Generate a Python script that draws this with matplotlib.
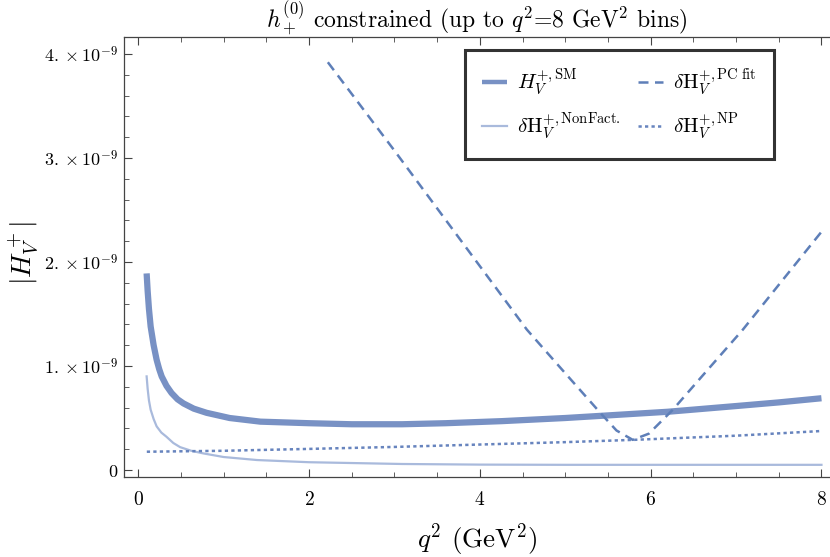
import matplotlib
matplotlib.use("Agg")
import matplotlib.pyplot as plt
from matplotlib.ticker import MultipleLocator, FixedLocator

plt.rcParams['mathtext.fontset'] = 'cm'
plt.rcParams['font.family'] = ['cmr10', 'DejaVu Serif']
plt.rcParams['axes.unicode_minus'] = False

# ---- data (values in units of 1e-9) ----
q2_sm = [0.098, 0.11, 0.125, 0.145, 0.18, 0.215, 0.245, 0.274, 0.33, 0.39, 0.46, 0.53, 0.65,
         0.80, 1.07, 1.43, 2.0, 2.5, 3.09, 3.6, 4.26, 5.0, 5.6, 6.2, 7.0, 7.5, 8.0]
h_sm = [1.89, 1.72, 1.55, 1.38, 1.20, 1.06, 0.97, 0.90, 0.81, 0.74, 0.68, 0.64, 0.59,
        0.55, 0.50, 0.465, 0.45, 0.44, 0.44, 0.45, 0.47, 0.50, 0.53, 0.56, 0.615, 0.65, 0.69]

q2_nf = [0.098, 0.11, 0.125, 0.145, 0.18, 0.215, 0.27, 0.33, 0.41, 0.49, 0.62, 0.76, 1.0,
         1.39, 2.0, 3.09, 4.0, 5.0, 6.0, 7.0, 8.0]
h_nf = [0.90, 0.78, 0.67, 0.58, 0.49, 0.42, 0.36, 0.32, 0.26, 0.22, 0.185, 0.16, 0.125,
        0.096, 0.075, 0.058, 0.052, 0.05, 0.05, 0.05, 0.05]

q2_pc = [2.22, 3.0, 4.0, 4.55, 5.0, 5.41, 5.6, 5.79, 5.98, 6.26, 6.6, 7.08, 7.5, 8.0]
h_pc = [3.92, 3.07, 1.96, 1.35, 0.93, 0.55, 0.38, 0.29, 0.35, 0.58, 0.90, 1.35, 1.78, 2.29]

q2_np = [0.1, 1.0, 2.0, 3.0, 4.0, 5.0, 5.8, 7.0, 8.0]
h_np = [0.176, 0.185, 0.203, 0.222, 0.245, 0.268, 0.29, 0.33, 0.375]

labels = [r'$H_V^{+,\mathrm{SM}}$', r'$\delta\mathrm{H}_V^{+,\mathrm{NonFact.}}$',
          r'$\delta\mathrm{H}_V^{+,\mathrm{PC\ fit}}$', r'$\delta\mathrm{H}_V^{+,\mathrm{NP}}$']
xticks = [0, 2, 4, 6, 8]
yticks = [0, 1, 2, 3, 4]
yticklabels = [r'$0$', r'$1.\times10^{-9}$', r'$2.\times10^{-9}$', r'$3.\times10^{-9}$', r'$4.\times10^{-9}$']

scale = 1e-9

fig = plt.figure(figsize=(8.3, 5.57), dpi=100)
ax = fig.add_axes([0.1494, 0.1442, 0.8506, 0.7889])

l1, = ax.plot(q2_sm, [v * scale for v in h_sm], color='#7891C4', lw=4.5, solid_capstyle='butt')
l2, = ax.plot(q2_nf, [v * scale for v in h_nf], color='#A9BADC', lw=1.6)
l3, = ax.plot(q2_pc, [v * scale for v in h_pc], color='#5E7FB8', lw=1.8, dashes=(4, 2.6))
l4, = ax.plot(q2_np, [v * scale for v in h_np], color='#6784BE', lw=1.8, dashes=(1.3, 1.3))

ax.set_xlim(-0.167, 8.1)
ax.set_ylim(-0.064e-9, 4.16e-9)

ax.xaxis.set_major_locator(FixedLocator(xticks))
ax.xaxis.set_minor_locator(MultipleLocator(0.5))
ax.set_xticklabels([rf'${t}$' for t in xticks], fontsize=14)
ax.yaxis.set_major_locator(FixedLocator([v * scale for v in yticks]))
ax.yaxis.set_minor_locator(MultipleLocator(0.2e-9))
ax.set_yticklabels(yticklabels, fontsize=13)
ax.tick_params(which='both', direction='in', top=True, right=False, color='#444444')
ax.tick_params(which='major', length=6, width=0.8, pad=4)
ax.tick_params(axis='x', which='major', pad=10)
ax.tick_params(which='minor', length=3.5, width=0.6)
for s in ax.spines.values():
    s.set_color('#444444')
    s.set_linewidth(0.9)
ax.spines['right'].set_visible(False)

ax.set_title(r'$h_+^{(0)}$ constrained (up to $q^2$=8 GeV$^2$ bins)', fontsize=17, pad=7)
ax.set_xlabel(r'$q^2$ (GeV$^2$)', fontsize=19.5, labelpad=9)
ax.set_ylabel(r'$|H_V^+|$', fontsize=20)
ax.yaxis.set_label_coords(-0.117, 0.509)

leg = ax.legend([l1, l2, l3, l4], labels, ncol=2, loc='upper left',
                bbox_to_anchor=(0.483, 0.971), fontsize=15, frameon=True, fancybox=False,
                handlelength=1.2, handletextpad=0.5, columnspacing=0.8,
                borderpad=0.8, labelspacing=0.6, borderaxespad=0)
leg.get_frame().set_edgecolor('black')
leg.get_frame().set_linewidth(2.2)
leg.legend_handles[0].set_linewidth(3.2)

fig.savefig('out.png', dpi=100)
